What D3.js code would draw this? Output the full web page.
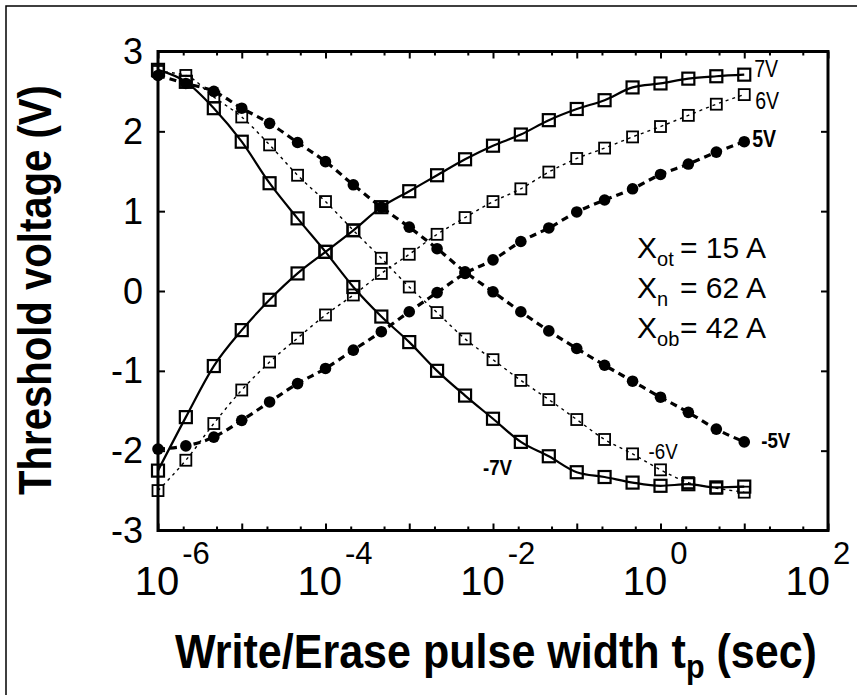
<!DOCTYPE html>
<html>
<head>
<meta charset="utf-8">
<script src="https://cdn.jsdelivr.net/npm/d3@7/dist/d3.min.js"></script>
<style>
  html, body { margin: 0; padding: 0; background: #fff; }
  svg { display: block; }
  text { font-family: "Liberation Sans", Arial, Helvetica, sans-serif; fill: #000; }
</style>
</head>
<body>
<svg id="chart" width="857" height="695"></svg>
<script>
// Pulse widths (s), one point every third of a decade
const pulseWidth = [1e-6, 2.15e-6, 4.64e-6, 1e-5, 2.15e-5, 4.64e-5, 1e-4, 2.15e-4, 4.64e-4,
  1e-3, 2.15e-3, 4.64e-3, 1e-2, 2.15e-2, 4.64e-2, 1e-1, 2.15e-1, 4.64e-1, 1, 2.15, 4.64, 10];

// Threshold voltage (V) after write pulses
const write7V = [-2.25, -1.58, -0.94, -0.49, -0.11, 0.22, 0.49, 0.76, 1.05, 1.25, 1.45, 1.65,
  1.82, 1.96, 2.14, 2.28, 2.39, 2.55, 2.60, 2.66, 2.69, 2.71];
const write6V = [-2.50, -2.12, -1.66, -1.24, -0.89, -0.59, -0.30, -0.05, 0.22, 0.46, 0.71, 0.92,
  1.12, 1.28, 1.49, 1.66, 1.79, 1.93, 2.06, 2.20, 2.34, 2.46];
const write5V = [-1.98, -1.94, -1.83, -1.62, -1.39, -1.16, -0.97, -0.74, -0.51, -0.26, -0.02, 0.22,
  0.39, 0.62, 0.79, 0.99, 1.14, 1.28, 1.46, 1.59, 1.74, 1.87];

// Threshold voltage (V) after erase pulses
const erase7V = [2.77, 2.62, 2.29, 1.87, 1.35, 0.91, 0.49, 0.05, -0.32, -0.64, -1.00, -1.31,
  -1.60, -1.89, -2.07, -2.27, -2.33, -2.40, -2.44, -2.42, -2.46, -2.45];
const erase6V = [2.75, 2.70, 2.43, 2.18, 1.83, 1.45, 1.12, 0.76, 0.41, 0.05, -0.27, -0.60,
  -0.86, -1.12, -1.36, -1.61, -1.86, -2.04, -2.24, -2.40, -2.47, -2.52];
const erase5V = [2.70, 2.60, 2.50, 2.29, 2.10, 1.86, 1.62, 1.33, 1.05, 0.80, 0.53, 0.24,
  -0.01, -0.26, -0.50, -0.72, -0.93, -1.13, -1.33, -1.52, -1.73, -1.89];

const yTickValues = [-3, -2, -1, 0, 1, 2, 3];
const xLabelExponents = [-6, -4, -2, 0, 2];
const stackParams = [["ot", "= 15 A"], ["n", "= 62 A"], ["ob", "= 42 A"]];

const series = [
  { name: "7V",  values: write7V, style: "solid",  marker: "square", label: "7V",  weight: "normal" },
  { name: "6V",  values: write6V, style: "dotted", marker: "square", label: "6V",  weight: "normal" },
  { name: "5V",  values: write5V, style: "dashed", marker: "circle", label: "5V",  weight: "bold" },
  { name: "-7V", values: erase7V, style: "solid",  marker: "square", label: "-7V", weight: "bold" },
  { name: "-6V", values: erase6V, style: "dotted", marker: "square", label: "-6V", weight: "normal" },
  { name: "-5V", values: erase5V, style: "dashed", marker: "circle", label: "-5V", weight: "bold" }
];

const svg = d3.select("#chart");
const plot = { left: 158, right: 828, top: 51.5, bottom: 530.5 };

const x = d3.scaleLog().domain([1e-6, 1e2]).range([plot.left, plot.right]);
const y = d3.scaleLinear().domain([-3, 3]).range([plot.bottom, plot.top]);

// outer figure frame (top and left edges)
svg.append("path").attr("d", "M6,695 V6 H857")
  .attr("fill", "none").attr("stroke", "#000").attr("stroke-width", 1.5);

// axes: ticks pointing inward on all four sides
const xTicks = [];
for (let e = -6; e < 2; e++) [1, 2, 5].forEach(m => xTicks.push(m * Math.pow(10, e)));
xTicks.push(1e2);

const axisBottom = d3.axisBottom(x).tickValues(xTicks).tickFormat("")
  .tickSizeInner(-4).tickSizeOuter(0);
const axisTop = d3.axisTop(x).tickValues(xTicks).tickFormat("")
  .tickSizeInner(-4).tickSizeOuter(0);
const axisLeft = d3.axisLeft(y).tickValues(yTickValues).tickFormat("")
  .tickSizeInner(-7).tickSizeOuter(0);
const axisRight = d3.axisRight(y).tickValues(yTickValues).tickFormat("")
  .tickSizeInner(-7).tickSizeOuter(0);

function styleAxis(g) {
  g.select(".domain").remove();
  g.selectAll(".tick line").attr("stroke", "#000").attr("stroke-width", 2);
}
const gB = svg.append("g").attr("transform", `translate(0,${plot.bottom})`).call(axisBottom).call(styleAxis);
const gT = svg.append("g").attr("transform", `translate(0,${plot.top})`).call(axisTop).call(styleAxis);
svg.append("g").attr("transform", `translate(${plot.left},0)`).call(axisLeft).call(styleAxis);
svg.append("g").attr("transform", `translate(${plot.right},0)`).call(axisRight).call(styleAxis);

// decade ticks slightly longer
[gB, gT].forEach((g, k) => {
  g.selectAll(".tick line").attr("y2", d => {
    const decade = Math.abs(Math.log10(d) - Math.round(Math.log10(d))) < 1e-9;
    return (k === 0 ? -1 : 1) * (decade ? 7 : 4);
  });
});

// plot frame
svg.append("rect")
  .attr("x", plot.left).attr("y", plot.top)
  .attr("width", plot.right - plot.left).attr("height", plot.bottom - plot.top)
  .attr("fill", "none").attr("stroke", "#000").attr("stroke-width", 3);

// y tick labels
svg.append("g").selectAll("text").data(yTickValues).join("text")
  .attr("x", 143).attr("y", d => y(d) + 12.5)
  .attr("text-anchor", "end").attr("font-size", 36)
  .text(d => d < 0 ? "-" + Math.abs(d) : String(d));

// x tick labels: 10 with superscript exponent
const xl = svg.append("g").selectAll("text").data(xLabelExponents).join("text")
  .attr("x", d => x(Math.pow(10, d)) - 1 - (d + 6) * 2.4)
  .attr("y", 595)
  .attr("font-size", 40);
xl.append("tspan").text("10");
xl.append("tspan").attr("dy", -31).attr("dx", 3).attr("font-size", 31)
  .text(d => d < 0 ? "-" + Math.abs(d) : String(d));
xl.each(function() {
  // center "10" on the tick
  const t = d3.select(this);
  const base = this.getSubStringLength(0, 2);
  t.attr("x", +t.attr("x") - base / 2);
});

// curves
const line = d3.line()
  .x((d, i) => x(pulseWidth[i]))
  .y(d => y(d))
  .curve(d3.curveMonotoneX);

const lineStyle = {
  solid:  { width: 2.2, dash: null },
  dotted: { width: 1.4, dash: "3,4" },
  dashed: { width: 3.2, dash: "7,5" }
};

series.forEach(s => {
  const st = lineStyle[s.style];
  svg.append("path").datum(s.values)
    .attr("d", line)
    .attr("fill", "none").attr("stroke", "#000")
    .attr("stroke-width", st.width)
    .attr("stroke-dasharray", st.dash);
});

// markers
series.filter(s => s.marker === "circle").forEach(s => {
  svg.append("g").selectAll("circle").data(s.values).join("circle")
    .attr("cx", (d, i) => x(pulseWidth[i]))
    .attr("cy", d => y(d))
    .attr("r", 5.8).attr("fill", "#000");
});
series.filter(s => s.marker === "square").forEach(s => {
  const size = s.style === "solid" ? 12 : 11;
  svg.append("g").selectAll("rect").data(s.values).join("rect")
    .attr("x", (d, i) => x(pulseWidth[i]) - size / 2)
    .attr("y", d => y(d) - size / 2)
    .attr("width", size).attr("height", size)
    .attr("fill", "none").attr("stroke", "#000")
    .attr("stroke-width", s.style === "solid" ? 2.2 : 1.8);
});

// series labels next to the curves
const labelOffsets = {
  "7V":  { dx: 10, dy: 2,  size: 23 },
  "6V":  { dx: 11, dy: 14, size: 23 },
  "5V":  { dx: 8,  dy: 5,  size: 23 },
  "-5V": { dx: 17, dy: 6,  size: 22 },
  "-6V": { dx: 16, dy: 5,  size: 22 },
  "-7V": { dx: -10, dy: 56, size: 22 }
};
series.forEach(s => {
  const o = labelOffsets[s.label];
  // -6V and -7V labels sit beside mid points of their curves
  let idx = s.values.length - 1;
  if (s.label === "-6V") idx = 17;
  if (s.label === "-7V") idx = 12;
  const lx = x(pulseWidth[idx]) + o.dx;
  const ly = y(s.values[idx]) + o.dy;
  svg.append("text")
    .attr("x", lx).attr("y", ly)
    .attr("font-size", o.size)
    .attr("font-weight", s.weight)
    .attr("transform-origin", `${lx} ${ly}`)
    .attr("transform", "scale(0.85,1)")
    .text(s.label);
});

// oxide stack thicknesses
const stack = svg.append("g");
stackParams.forEach((p, i) => {
  const by = 258 + i * 40;
  const t = stack.append("text").attr("x", 637).attr("y", by).attr("font-size", 30);
  t.append("tspan").text("X");
  t.append("tspan").attr("dy", 8).attr("font-size", 20).text(p[0]);
  stack.append("text").attr("x", 680).attr("y", by).attr("font-size", 30).text(p[1]);
});

// axis titles, condensed to the frame's proportions
function fitText(sel, target) {
  const w = sel.node().getComputedTextLength();
  return target / w;
}
const yTitle = svg.append("text")
  .attr("text-anchor", "middle").attr("font-size", 46).attr("font-weight", "bold")
  .text("Threshold voltage (V)");
const sy = fitText(yTitle, 410);
yTitle.attr("transform", `translate(51,290) rotate(-90) scale(${sy},1)`);

const xTitle = svg.append("text")
  .attr("font-size", 48).attr("font-weight", "bold");
xTitle.append("tspan").text("Write/Erase pulse width t");
xTitle.append("tspan").attr("dy", 10).attr("font-size", 34).text("p");
xTitle.append("tspan").attr("dy", -10).text(" (sec)");
const xw = xTitle.node().getBBox().width;
const sx = 642 / xw;
xTitle.attr("transform", `translate(175,668) scale(${sx},1)`);
</script>
</body>
</html>
